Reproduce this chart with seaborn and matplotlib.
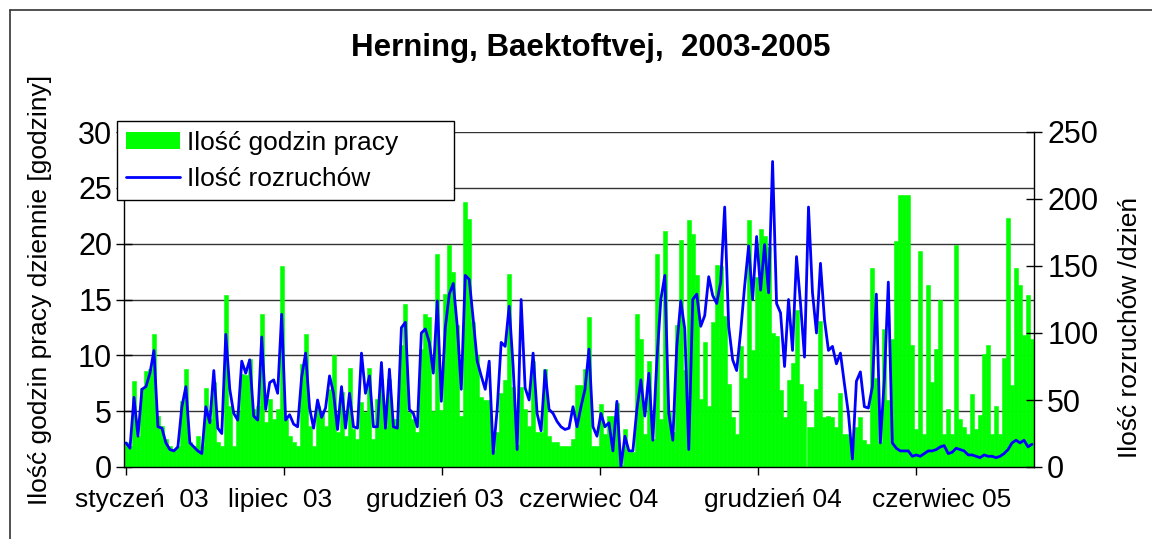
import numpy as np
import pandas as pd
import matplotlib
matplotlib.use("Agg")
import matplotlib.pyplot as plt
from matplotlib.patches import Patch
from matplotlib.lines import Line2D
import seaborn as sns

# ---------------- data (~4-day resolution) ----------------
hours = [
    2.2, 1.9, 7.7, 2.8, 7.1, 8.6, 8.8, 11.9, 4.6, 3.7, 2.5, 1.9, 1.6, 1.9, 5.9, 8.8, 2.2, 1.9, 2.8, 1.9,
    7.1, 4.3, 7.6, 2.2, 1.9, 15.4, 5.5, 1.9, 4.9, 8.3, 8.2, 9.7, 5.2, 5.5, 13.7, 4.0, 6.1, 4.3, 5.2, 18.0,
    4.3, 2.8, 2.2, 1.9, 9.2, 11.9, 3.7, 1.9, 5.5, 4.9, 3.7, 7.0, 10.0, 3.1, 6.7, 2.8, 8.9, 3.4, 2.5, 5.8,
    4.9, 8.9, 2.5, 6.1, 7.9, 3.7, 7.9, 4.3, 4.3, 10.9, 14.6, 4.9, 4.3, 3.1, 10.6, 13.7, 13.4, 5.0, 19.1, 5.1,
    15.5, 19.9, 17.5, 12.7, 4.6, 23.7, 22.2, 13.0, 10.0, 6.3, 6.0, 6.0, 1.5, 3.1, 6.6, 7.8, 17.3, 7.2, 2.0, 7.2,
    5.2, 3.7, 9.5, 3.1, 3.1, 8.8, 2.8, 2.2, 2.2, 1.9, 1.9, 1.9, 2.5, 7.3, 7.3, 8.8, 13.4, 1.9, 1.9, 5.6,
    3.0, 4.6, 4.6, 5.7, 0.2, 3.4, 1.3, 1.3, 13.7, 11.5, 3.0, 9.5, 2.5, 19.1, 4.3, 21.1, 4.9, 3.1, 12.7, 20.3,
    8.7, 22.1, 20.9, 17.2, 6.1, 11.2, 5.5, 13.0, 18.1, 18.0, 13.5, 7.4, 4.5, 3.0, 10.8, 8.0, 22.1, 10.5, 17.0, 21.3,
    20.7, 19.7, 12.0, 11.7, 6.9, 4.5, 7.8, 9.3, 14.1, 7.4, 5.9, 3.6, 3.6, 7.0, 13.1, 4.5, 4.6, 4.5, 3.6, 6.6,
    3.0, 3.0, 2.4, 3.6, 4.5, 2.4, 2.1, 17.8, 8.0, 2.2, 12.4, 6.0, 11.5, 20.2, 24.4, 24.4, 24.4, 10.9, 3.4, 19.3,
    3.0, 16.3, 7.6, 10.6, 15.0, 3.0, 5.2, 3.0, 19.9, 4.3, 3.6, 3.0, 6.5, 3.4, 4.7, 10.1, 10.9, 3.0, 5.5, 3.0,
    9.8, 22.3, 7.3, 17.8, 16.3, 11.8, 15.4, 11.5,
]
starts = [
    18, 14, 52, 23, 58, 60, 70, 87, 30, 29, 18, 13, 12, 15, 45, 60, 18, 15, 12, 10,
    45, 33, 72, 29, 25, 99, 58, 40, 35, 79, 70, 80, 38, 35, 97, 43, 63, 65, 55, 114,
    35, 39, 32, 30, 67, 85, 44, 29, 50, 37, 44, 68, 55, 28, 60, 29, 55, 30, 29, 85,
    55, 68, 30, 30, 78, 29, 73, 30, 29, 104, 108, 43, 40, 30, 100, 103, 93, 70, 124, 49,
    104, 129, 137, 105, 58, 143, 140, 110, 79, 68, 58, 79, 10, 43, 93, 90, 120, 75, 13, 125,
    59, 50, 85, 40, 27, 72, 43, 40, 34, 30, 28, 29, 45, 30, 45, 58, 88, 30, 23, 40,
    30, 33, 12, 49, 0, 23, 12, 12, 43, 65, 38, 70, 20, 79, 125, 143, 40, 20, 90, 124,
    103, 13, 125, 129, 105, 113, 142, 128, 122, 138, 194, 105, 80, 72, 101, 135, 165, 125, 172, 132,
    166, 130, 228, 122, 115, 75, 125, 87, 157, 122, 82, 194, 130, 100, 152, 110, 87, 90, 77, 85,
    62, 40, 6, 64, 71, 45, 44, 60, 129, 18, 65, 138, 18, 14, 12, 12, 12, 8, 9, 8,
    10, 12, 12, 13, 15, 16, 10, 11, 14, 13, 12, 9, 9, 8, 7, 9, 8, 8, 7, 8,
    10, 13, 18, 20, 18, 20, 15, 17,
]
xlabels = ["styczeń  03", "lipiec  03", "grudzień 03", "czerwiec 04", "grudzień 04", "czerwiec 05"]
title = "Herning, Baektoftvej,  2003-2005"
ylabel_left = "Ilość godzin pracy dziennie [godziny]"
ylabel_right = "Ilość rozruchów /dzień"
legend_labels = ["Ilość godzin pracy", "Ilość rozruchów"]

# ---------------- styling ----------------
sns.set_style("white")
plt.rcParams["font.family"] = ["Liberation Sans", "DejaVu Sans"]
for key in ("text.color", "axes.labelcolor", "xtick.color", "ytick.color", "axes.edgecolor"):
    plt.rcParams[key] = "black"

GREEN = "#00FF00"
BLUE = "#0000FF"
W, H = 1152, 539

df = pd.DataFrame({"period": np.arange(len(hours)), "hours": hours, "starts": starts})

fig = plt.figure(figsize=(W / 100, H / 100), dpi=100)
fig.patch.set_facecolor("white")
ax = fig.add_axes([124 / W, 1 - 467 / H, 910 / W, 335 / H])

sns.barplot(data=df, x="period", y="hours", ax=ax, native_scale=True, color=GREEN,
            saturation=1, width=1.0, linewidth=0.4, edgecolor=GREEN, errorbar=None)
ax2 = ax.twinx()
sns.lineplot(data=df, x="period", y="starts", ax=ax2, color=BLUE, linewidth=2.0,
             estimator=None)

n = len(hours)
ax.set_xlim(-0.5, n - 0.5)
ax.set_ylim(0, 30)
ax2.set_ylim(0, 250)

# grid
ax.set_axisbelow(True)
ax.yaxis.grid(True, color="#333333", linewidth=1.0)
ax.xaxis.grid(False)
ax2.grid(False)

# y ticks
ax.set_yticks(np.arange(0, 31, 5))
ax2.set_yticks(np.arange(0, 251, 50))
ax.tick_params(axis="y", direction="inout", length=11, width=1, labelsize=22, pad=3,
               color="black", labelcolor="black", left=True)
ax2.tick_params(axis="y", direction="inout", length=11, width=1, labelsize=22, pad=4,
                color="black", labelcolor="black", right=True)

# x ticks: marks every ~39.6 periods, labels slightly offset
step = 39.6
major_pos = np.arange(6) * step
label_pos = [4, 38.5, 77.3, 116, 162, 204.3]
ax.set_xticks(major_pos)
ax.set_xticklabels([])
ax.set_xticks(label_pos, minor=True)
ax.set_xticklabels(xlabels, minor=True, fontsize=19, color="black")
ax.tick_params(axis="x", which="major", direction="out", length=6, width=1, color="black",
               bottom=True)
ax.tick_params(axis="x", which="minor", length=0, pad=15, bottom=True)
ax2.tick_params(axis="x", which="both", bottom=False, labelbottom=False)

ax.set_xlabel("")
ax.set_ylabel("")
ax2.set_xlabel("")
ax2.set_ylabel("")

for a in (ax, ax2):
    a.spines["top"].set_visible(False)
    for s in ("left", "right", "bottom"):
        a.spines[s].set_color("black")
        a.spines[s].set_linewidth(1.0)
ax.spines["right"].set_visible(False)
ax2.spines["left"].set_visible(False)
ax2.spines["bottom"].set_visible(False)

# texts
fig.text(591 / W, 1 - 48 / H, title, ha="center", va="center", fontsize=22.5,
         fontweight="bold", color="black")
fig.text(40 / W, 1 - 290 / H, ylabel_left, ha="center", va="center", rotation=90,
         fontsize=19, color="black")
fig.text(1130 / W, 1 - 328 / H, ylabel_right, ha="center", va="center", rotation=90,
         fontsize=19, color="black")

# legend
handles = [Patch(facecolor=GREEN, edgecolor="none"), Line2D([], [], color=BLUE, linewidth=2.0)]
leg = fig.legend(handles, legend_labels, loc="upper left",
                 bbox_to_anchor=(117 / W, 1 - 122 / H, 337 / W, 0.001), mode="expand",
                 fontsize=19, frameon=True, fancybox=False, shadow=False, framealpha=1,
                 edgecolor="black", borderpad=0.35, labelspacing=0.45, handlelength=2.05,
                 handleheight=0.65, handletextpad=0.25, borderaxespad=0)
leg.get_frame().set_linewidth(1.0)
for t in leg.get_texts():
    t.set_color("black")

# outer frame of the chart area
fig.add_artist(Line2D([10 / W, 1.01], [1 - 10 / H, 1 - 10 / H], color="#333333", lw=1.2,
                      transform=fig.transFigure))
fig.add_artist(Line2D([10 / W, 10 / W], [-0.01, 1 - 10 / H], color="#333333", lw=1.2,
                      transform=fig.transFigure))

fig.savefig("out.png", dpi=100, facecolor="white")
